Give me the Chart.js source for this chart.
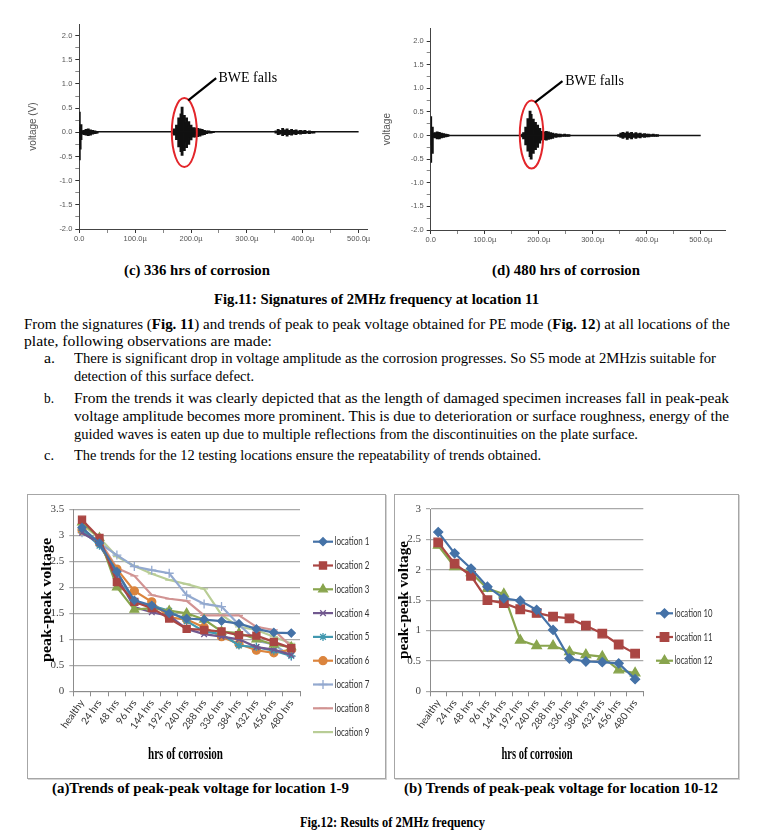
<!DOCTYPE html>
<html>
<head>
<meta charset="utf-8">
<script src="https://cdn.jsdelivr.net/npm/chart.js@4.4.1/dist/chart.umd.min.js"></script>
<style>
  html, body { margin: 0; padding: 0; background: #fff; }
  body { width: 767px; height: 838px; position: relative; overflow: hidden;
         font-family: 'Liberation Serif', 'Times New Roman', serif; color: #000; }
  .box { position: absolute; }
  .frame { border: 1px solid #a6a6a6; box-sizing: border-box; box-shadow: 1px 1px 0 #d4d4d4; }
  .txt { position: absolute; white-space: nowrap; font-size: 14.5px; line-height: 1.15; transform-origin: 0 50%; }
  .cap { font-weight: bold; font-size: 14.5px; }
  canvas { display: block; }
</style>
</head>
<body>

<div class="box" style="left:0;top:14px;width:380px;height:236px"><canvas id="sigC" width="380" height="236"></canvas></div>
<div class="box" style="left:380px;top:14px;width:387px;height:236px"><canvas id="sigD" width="387" height="236"></canvas></div>

<div class="txt cap" data-x="124" data-w="146" data-y="270">(c) 336 hrs of corrosion</div>
<div class="txt cap" data-x="492" data-w="148" data-y="270">(d) 480 hrs of corrosion</div>
<div class="txt cap" data-x="214" data-w="325" data-y="299">Fig.11: Signatures of 2MHz frequency at location 11</div>

<div class="txt" data-x="24" data-w="706" data-y="324">From the signatures (<b>Fig. 11</b>) and trends of peak to peak voltage obtained for PE mode (<b>Fig. 12</b>) at all locations of the</div>
<div class="txt" data-x="24" data-w="248" data-y="341">plate, following observations are made:</div>
<div class="txt" data-x="44" data-w="11" data-y="358">a.</div>
<div class="txt" data-x="74" data-w="642" data-y="358">There is significant drop in voltage amplitude as the corrosion progresses. So S5 mode at 2MHzis suitable for</div>
<div class="txt" data-x="74" data-w="180" data-y="376">detection of this surface defect.</div>
<div class="txt" data-x="44" data-w="10" data-y="398">b.</div>
<div class="txt" data-x="74" data-w="655" data-y="398">From the trends it was clearly depicted that as the length of damaged specimen increases fall in peak-peak</div>
<div class="txt" data-x="74" data-w="655" data-y="416">voltage amplitude becomes more prominent. This is due to deterioration or surface roughness, energy of the</div>
<div class="txt" data-x="74" data-w="564" data-y="434">guided waves is eaten up due to multiple reflections from the discontinuities on the plate surface.</div>
<div class="txt" data-x="44" data-w="10" data-y="455">c.</div>
<div class="txt" data-x="74" data-w="467" data-y="455">The trends for the 12 testing locations ensure the repeatability of trends obtained.</div>

<div class="box frame" style="left:27px;top:494px;width:359px;height:285px"><canvas id="trendA" width="357" height="283"></canvas></div>
<div class="box frame" style="left:394px;top:494px;width:345px;height:285px"><canvas id="trendB" width="343" height="283"></canvas></div>

<div class="txt cap" data-x="52" data-w="297" data-y="788">(a)Trends of peak-peak voltage for location 1-9</div>
<div class="txt cap" data-x="404" data-w="314" data-y="788">(b) Trends of peak-peak voltage for location 10-12</div>
<div class="txt cap" data-x="300" data-w="185" data-y="822">Fig.12: Results of 2MHz frequency</div>

<script>
// ---- signal plots (Fig. 11): envelope of the received signal, time in microseconds ----
const sigTimeTicks = [0, 50, 100, 150, 200, 250, 300, 350, 400, 450, 500];
const sigVoltTicks = [-2, -1.75, -1.5, -1.25, -1, -0.75, -0.5, -0.25, 0, 0.25, 0.5, 0.75, 1, 1.25, 1.5, 1.75, 2];

const sigCTime = [0, 1.5, 3,
  6, 8, 10, 12, 14, 16, 18, 20, 22, 24, 26, 28, 30, 32,
  168, 170, 172, 174, 176, 178, 180, 182, 184, 186, 188, 190, 192, 194, 196, 198, 200, 202, 204, 206,
  208, 210, 212, 214, 216, 218, 220, 222, 224, 226, 228, 232, 236, 240,
  352, 356, 360, 364, 368, 372, 376, 380, 384, 388, 392, 396, 400, 404, 408, 412, 416, 420];
const sigCLow = [-0.57, -0.35, -0.15,
  -0.03, -0.05, -0.03, -0.06, -0.04, -0.07, -0.05, -0.06, -0.03, -0.04, -0.02, -0.03, -0.02, -0.02,
  -0.03, -0.06, -0.04, -0.15, -0.1, -0.3, -0.2, -0.4, -0.48, -0.3, -0.38, -0.2, -0.32, -0.15, -0.25, -0.1, -0.16, -0.06, -0.1, -0.04,
  -0.1, -0.06, -0.09, -0.05, -0.08, -0.04, -0.06, -0.03, -0.05, -0.02, -0.03, -0.02, -0.02, -0.01,
  -0.02, -0.05, -0.04, -0.07, -0.05, -0.08, -0.05, -0.06, -0.04, -0.05, -0.03, -0.04, -0.03, -0.03, -0.02, -0.03, -0.02, -0.02];
const sigCHigh = [0.42, 0.1, 0.16,
  0.03, 0.04, 0.02, 0.06, 0.04, 0.07, 0.04, 0.05, 0.03, 0.04, 0.02, 0.03, 0.02, 0.02,
  0.03, 0.07, 0.04, 0.15, 0.1, 0.3, 0.18, 0.38, 0.52, 0.28, 0.35, 0.2, 0.3, 0.12, 0.22, 0.08, 0.15, 0.05, 0.1, 0.04,
  0.09, 0.05, 0.08, 0.04, 0.07, 0.03, 0.06, 0.03, 0.04, 0.02, 0.03, 0.03, 0.02, 0.02,
  0.03, 0.06, 0.04, 0.08, 0.05, 0.07, 0.04, 0.06, 0.04, 0.05, 0.03, 0.04, 0.03, 0.04, 0.02, 0.03, 0.02, 0.02];
const sigCBase = [0.01, 0.01];

const sigDTime = [0, 1.5, 3,
  6, 8, 10, 12, 14, 16, 18, 20, 22, 24, 26, 28, 30, 32,
  170, 172, 174, 176, 178, 180, 182, 184, 186, 188, 190, 192, 194, 196, 198, 200, 202, 204, 206, 208,
  210, 212, 214, 216, 218, 220, 222, 224, 226, 228, 232, 236, 240, 244, 248, 252, 256,
  348, 352, 356, 360, 364, 368, 372, 376, 380, 384, 388, 392, 396, 400, 404, 408, 412, 416, 420];
const sigDLow = [-0.57, -0.2, -0.38,
  -0.04, -0.05, -0.03, -0.07, -0.05, -0.07, -0.04, -0.05, -0.03, -0.04, -0.02, -0.03, -0.02, -0.02,
  -0.03, -0.07, -0.05, -0.2, -0.12, -0.33, -0.2, -0.45, -0.5, -0.3, -0.38, -0.22, -0.3, -0.15, -0.25, -0.12, -0.16, -0.08, -0.1, -0.05,
  -0.09, -0.06, -0.1, -0.05, -0.08, -0.05, -0.07, -0.04, -0.06, -0.03, -0.04, -0.03, -0.03, -0.02, -0.02, -0.02, -0.02,
  -0.02, -0.04, -0.06, -0.04, -0.08, -0.05, -0.07, -0.04, -0.06, -0.04, -0.05, -0.03, -0.04, -0.03, -0.03, -0.02, -0.02, -0.02, -0.02];
const sigDHigh = [0.4, 0.1, 0.18,
  0.05, 0.06, 0.03, 0.08, 0.05, 0.07, 0.04, 0.05, 0.03, 0.04, 0.02, 0.03, 0.02, 0.02,
  0.03, 0.06, 0.05, 0.18, 0.12, 0.36, 0.22, 0.52, 0.45, 0.28, 0.35, 0.2, 0.28, 0.14, 0.22, 0.1, 0.15, 0.06, 0.09, 0.04,
  0.08, 0.05, 0.09, 0.05, 0.08, 0.04, 0.06, 0.04, 0.05, 0.03, 0.04, 0.03, 0.03, 0.02, 0.03, 0.02, 0.02,
  0.02, 0.05, 0.07, 0.05, 0.08, 0.05, 0.07, 0.04, 0.06, 0.04, 0.05, 0.03, 0.04, 0.03, 0.03, 0.02, 0.03, 0.02, 0.02];
const sigDBase = [0.0, 0.0];
const sigBaseTime = [0, 500];

// ---- trend plots (Fig. 12) ----
const hourLabels = ['healthy', '24 hrs', '48 hrs', '96 hrs', '144 hrs', '192 hrs', '240 hrs',
  '288 hrs', '336 hrs', '384 hrs', '432 hrs', '456 hrs', '480 hrs'];

const loc1 = [3.15, 2.85, 2.3, 1.75, 1.65, 1.5, 1.4, 1.38, 1.35, 1.3, 1.2, 1.13, 1.12];
const loc2 = [3.3, 2.95, 2.1, 1.72, 1.6, 1.4, 1.2, 1.18, 1.15, 1.08, 1.07, 0.95, 0.83];
const loc3 = [3.25, 2.95, 2.0, 1.57, 1.6, 1.55, 1.5, 1.38, 1.15, 1.12, 1.0, 0.9, 0.85];
const loc4 = [3.05, 2.85, 2.2, 1.62, 1.52, 1.45, 1.2, 1.1, 1.05, 1.0, 0.85, 0.8, 0.7];
const loc5 = [3.1, 2.8, 2.3, 1.7, 1.65, 1.55, 1.35, 1.15, 1.1, 0.88, 0.85, 0.78, 0.68];
const loc6 = [3.1, 2.85, 2.35, 1.93, 1.72, 1.42, 1.38, 1.23, 1.05, 0.91, 0.79, 0.74, 0.8];
const loc7 = [3.05, 2.85, 2.62, 2.4, 2.33, 2.27, 1.85, 1.68, 1.63, 1.28, 0.97, 0.9, 0.67];
const loc8 = [3.05, 2.9, 2.37, 2.22, 1.85, 1.78, 1.74, 1.46, 1.46, 1.46, 1.24, 1.18, 0.86];
const loc9 = [3.2, 2.95, 2.59, 2.41, 2.26, 2.14, 2.06, 1.97, 1.47, 1.24, 1.18, 1.05, 0.92];

const loc10 = [2.62, 2.27, 2.02, 1.72, 1.53, 1.49, 1.34, 1.01, 0.54, 0.49, 0.48, 0.46, 0.2];
const loc11 = [2.45, 2.1, 1.9, 1.5, 1.45, 1.35, 1.29, 1.23, 1.2, 1.08, 0.95, 0.77, 0.62];
const loc12 = [2.4, 2.05, 1.95, 1.69, 1.6, 0.84, 0.75, 0.75, 0.65, 0.6, 0.57, 0.35, 0.3];

const namesA = ['location 1', 'location 2', 'location 3', 'location 4', 'location 5',
  'location 6', 'location 7', 'location 8', 'location 9'];
const colorsA = ['#4572A7', '#AA4643', '#89A54E', '#71588F', '#4198AF', '#DB843D', '#93A9CF', '#D19392', '#B9CD96'];
const stylesA = ['rectRot', 'rect', 'triangle', 'crossRot', 'star', 'circle', 'cross', 'line', 'line'];
const radiiA = [4, 5, 5, 4, 4, 4, 4.5, 4, 4];

const namesB = ['location 10', 'location 11', 'location 12'];
const colorsB = ['#4572A7', '#AA4643', '#89A54E'];
const stylesB = ['rectRot', 'rect', 'triangle'];
const radiiB = [4.5, 6, 5.5];

const sigFont = "'Liberation Sans', Arial, sans-serif";

// ellipse, pointer line and "BWE falls" label drawn in data units
const sigNote = {
  id: 'sigNote',
  afterDatasetsDraw(chart, args, o) {
    const { ctx, scales: { x, y } } = chart;
    ctx.save();
    const x0 = x.getPixelForValue(o.ellipse[0]), x1 = x.getPixelForValue(o.ellipse[1]);
    const y0 = y.getPixelForValue(o.ellipse[3]), y1 = y.getPixelForValue(o.ellipse[2]);
    ctx.beginPath();
    ctx.ellipse((x0 + x1) / 2, (y0 + y1) / 2, (x1 - x0) / 2, (y1 - y0) / 2, 0, 0, Math.PI * 2);
    ctx.strokeStyle = '#e3262b';
    ctx.lineWidth = 2;
    ctx.stroke();
    const a = o.arrow;
    ctx.beginPath();
    ctx.moveTo(x.getPixelForValue(a[0]), y.getPixelForValue(a[1]));
    ctx.lineTo(x.getPixelForValue(a[2]), y.getPixelForValue(a[3]));
    ctx.strokeStyle = '#000';
    ctx.lineWidth = 2.2;
    ctx.stroke();
    ctx.font = "14px 'Liberation Serif'";
    ctx.fillStyle = '#000';
    ctx.textBaseline = 'middle';
    ctx.fillText(o.text, x.getPixelForValue(o.textAt[0]), y.getPixelForValue(o.textAt[1]));
    ctx.restore();
  }
};

function sigChart(id, time, low, high, base, cfg) {
  const bars = time.map((t, i) => ({ x: t, y: [low[i], high[i]] }));
  const line = sigBaseTime.map((t, i) => ({ x: t, y: base[i] }));
  return new Chart(document.getElementById(id), {
    type: 'bar',
    data: {
      datasets: [
        { type: 'line', data: line, borderColor: '#111', borderWidth: 1.4, pointRadius: 0 },
        { data: bars, backgroundColor: '#111', barThickness: 2.2, borderWidth: 0 }
      ]
    },
    options: {
      responsive: false,
      animation: false,
      layout: { padding: { top: cfg.top, right: cfg.right, left: 0, bottom: 0 } },
      plugins: { legend: { display: false }, tooltip: { enabled: false }, sigNote: cfg.note },
      scales: {
        x: {
          type: 'linear', min: 0, max: cfg.xmax, offset: false,
          afterBuildTicks: s => { s.ticks = sigTimeTicks.map(v => ({ value: v })); },
          afterFit: s => { s.height = cfg.xh; },
          grid: { display: true, drawOnChartArea: false, offset: false, tickLength: 4,
                  tickColor: c => (c.tick && c.tick.value % 100 === 0 ? '#333' : '#888') },
          border: { color: '#444', width: 1 },
          ticks: { autoSkip: false, maxRotation: 0, padding: 1, color: '#555',
                   font: { family: sigFont, size: 7.5 },
                   callback: v => (v % 100 === 0 ? (v === 0 ? '0.0' : v.toFixed(1) + 'µ') : '') }
        },
        y: {
          min: -2, max: cfg.ymax,
          afterBuildTicks: s => { s.ticks = sigVoltTicks.map(v => ({ value: v })); },
          afterFit: s => { s.width = cfg.yw; },
          grid: { display: true, drawOnChartArea: false, tickLength: 4,
                  tickColor: c => (c.tick && Number.isInteger(c.tick.value * 2) ? '#333' : '#888') },
          border: { color: '#444', width: 1 },
          ticks: { autoSkip: false, padding: 3, color: '#555', font: { family: sigFont, size: 7.5 },
                   callback: v => (Number.isInteger(v * 2) ? v.toFixed(1) : '') },
          title: { display: true, text: cfg.ytitle, color: '#555', font: { family: sigFont, size: 10 },
                   padding: { top: cfg.ytitlePad, bottom: 0 } }
        }
      }
    },
    plugins: [sigNote]
  });
}

sigChart('sigC', sigCTime, sigCLow, sigCHigh, sigCBase, {
  top: 10, right: 13, xh: 21, yw: 79.3, xmax: 515, ymax: 2.24, ytitle: 'voltage (V)', ytitlePad: 27,
  note: { ellipse: [165.6, 210.4, -0.72, 0.71], arrow: [195, 0.66, 245, 1.12], text: 'BWE falls', textAt: [249, 1.12] }
});
sigChart('sigD', sigDTime, sigDLow, sigDHigh, sigDBase, {
  top: 14.3, right: 42, xh: 20, yw: 50.7, xmax: 545, ymax: 2.27, ytitle: 'voltage', ytitlePad: 1,
  note: { ellipse: [165, 208.5, -0.7, 0.74], arrow: [193, 0.7, 244, 1.15], text: 'BWE falls', textAt: [249, 1.15] }
});

// squeezed text (titles and legend look horizontally condensed in the source)
function squeezeText(ctx, text, x, y, w, font, rot, align) {
  ctx.save();
  ctx.font = font;
  ctx.translate(x, y);
  if (rot) ctx.rotate(rot);
  const nat = ctx.measureText(text).width;
  ctx.scale(w / nat, 1);
  ctx.textAlign = align || 'center';
  ctx.textBaseline = 'middle';
  ctx.fillText(text, 0, 0);
  ctx.restore();
}

const trendDeco = {
  id: 'trendDeco',
  afterDraw(chart, args, o) {
    const ctx = chart.ctx;
    ctx.save();
    ctx.fillStyle = '#000';
    squeezeText(ctx, 'peak-peak voltage', o.yTitle[0], o.yTitle[1], o.yTitle[2], "bold 15px 'Liberation Serif'", -Math.PI / 2);
    squeezeText(ctx, 'hrs of corrosion', o.xTitle[0], o.xTitle[1], o.xTitle[2], "bold 16px 'Liberation Serif'", 0);
    const L = o.legend;
    ctx.font = "11px Lato";
    const k = L.w0 / ctx.measureText(chart.data.datasets[0].label).width;
    chart.data.datasets.forEach((ds, i) => {
      const y = L.y + i * L.gap;
      ctx.strokeStyle = ds.borderColor;
      ctx.fillStyle = ds.borderColor;
      ctx.lineWidth = ds.borderWidth;
      ctx.beginPath();
      ctx.moveTo(L.x0, y);
      ctx.lineTo(L.x1, y);
      ctx.stroke();
      ctx.lineWidth = 1.3;
      Chart.helpers.drawPoint(ctx, { pointStyle: ds.pointStyle, radius: ds.pointRadius, rotation: 0, borderWidth: 1.3 }, (L.x0 + L.x1) / 2, y);
      ctx.save();
      ctx.fillStyle = '#333';
      ctx.font = "11px Lato";
      ctx.translate(L.x1 + 1.5, y);
      ctx.scale(k, 1);
      ctx.textBaseline = 'middle';
      ctx.fillText(ds.label, 0, 0);
      ctx.restore();
    });
    ctx.restore();
  }
};

function trendChart(id, series, names, colors, styles, radii, cfg) {
  return new Chart(document.getElementById(id), {
    type: 'line',
    data: {
      labels: hourLabels,
      datasets: series.map((d, i) => ({
        label: names[i], data: d, borderColor: colors[i], backgroundColor: colors[i],
        pointBackgroundColor: colors[i], pointBorderColor: colors[i], pointStyle: styles[i],
        pointRadius: radii[i], pointBorderWidth: 1.3, borderWidth: 2.2, tension: 0, fill: false
      }))
    },
    options: {
      responsive: false,
      animation: false,
      layout: { padding: { top: cfg.top, right: cfg.right, left: 0, bottom: 0 } },
      plugins: { legend: { display: false }, tooltip: { enabled: false }, trendDeco: cfg.deco },
      scales: {
        x: {
          offset: true,
          afterFit: s => { s.height = cfg.xh; },
          grid: { offset: true, drawOnChartArea: false, tickLength: 5, color: '#8c8c8c' },
          border: { color: '#8c8c8c' },
          ticks: { autoSkip: false, minRotation: 55, maxRotation: 55, padding: 1, color: '#333',
                   font: { family: 'Lato', size: 10 } }
        },
        y: {
          min: 0, max: cfg.ymax,
          afterFit: s => { s.width = cfg.yw; },
          grid: { color: '#a9a9a9', lineWidth: 1.2, tickLength: 4 },
          border: { color: '#8c8c8c' },
          ticks: { stepSize: 0.5, padding: 5, color: '#444', font: { family: "'Liberation Serif'", size: 11 },
                   callback: v => String(v) }
        }
      }
    },
    plugins: [trendDeco]
  });
}

trendChart('trendA', [loc1, loc2, loc3, loc4, loc5, loc6, loc7, loc8, loc9], namesA, colorsA, stylesA, radiiA, {
  top: 14.3, right: 85, xh: 86.7, yw: 45.3, ymax: 3.5,
  deco: { yTitle: [18.7, 105, 124], xTitle: [157.5, 260, 75],
          legend: { x0: 285, x1: 305, y: 46.7, gap: 23.8, w0: 35 } }
});
trendChart('trendB', [loc10, loc11, loc12], namesB, colorsB, stylesB, radiiB, {
  top: 14, right: 94.7, xh: 86.7, yw: 35, ymax: 3,
  deco: { yTitle: [9, 105, 118], xTitle: [142, 260, 71],
          legend: { x0: 261, x1: 278, y: 118.3, gap: 23.7, w0: 38 } }
});

// place text lines: left edge, centre line, squeezed to the measured width
document.querySelectorAll('.txt').forEach(el => {
  const w = +el.dataset.w;
  const nat = el.getBoundingClientRect().width;
  el.style.left = el.dataset.x + 'px';
  el.style.top = (+el.dataset.y - el.offsetHeight / 2) + 'px';
  el.style.transform = 'scaleX(' + (w / nat) + ')';
});
</script>
</body>
</html>
